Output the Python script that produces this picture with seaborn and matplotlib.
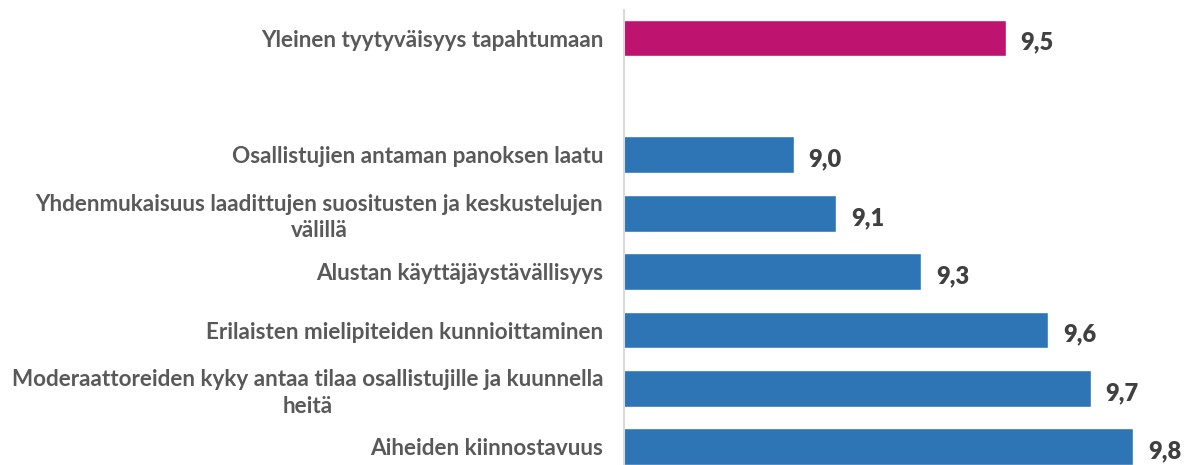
import matplotlib
matplotlib.use("Agg")
import matplotlib.pyplot as plt
import seaborn as sns
import pandas as pd
import numpy as np

categories = [
    "Yleinen tyytyväisyys tapahtumaan",
    " ",
    "Osallistujien antaman panoksen laatu",
    "Yhdenmukaisuus laadittujen suositusten ja keskustelujen\nvälillä",
    "Alustan käyttäjäystävällisyys",
    "Erilaisten mielipiteiden kunnioittaminen",
    "Moderaattoreiden kyky antaa tilaa osallistujille ja kuunnella\nheitä",
    "Aiheiden kiinnostavuus",
]
values = [9.5, np.nan, 9.0, 9.1, 9.3, 9.6, 9.7, 9.8]
groups = ["overall", "overall", "item", "item", "item", "item", "item", "item"]
value_labels = ["9,5", "", "9,0", "9,1", "9,3", "9,6", "9,7", "9,8"]

df = pd.DataFrame({"category": categories, "value": values, "group": groups})

sns.set_theme(style="white")
plt.rcParams["font.family"] = ["Lato", "DejaVu Sans"]

fig = plt.figure(figsize=(11.89, 4.65), dpi=100)
ax = fig.add_axes([624 / 1189, -11 / 465, 594 / 1189, 466 / 465])

sns.barplot(data=df, y="category", x="value", hue="group",
            palette={"overall": "#BE1470", "item": "#2E75B6"},
            orient="h", width=0.63, dodge=False, legend=False, ax=ax,
            saturation=1)

ax.set_xlim(8.6, 10.0)
ax.set_ylim(7.5, -0.48)
ax.set_xlabel("")
ax.set_ylabel("")
ax.set_xticks([])
for s in ["top", "right", "bottom"]:
    ax.spines[s].set_visible(False)
ax.spines["left"].set_color("#D9D9D9")
ax.spines["left"].set_linewidth(1.5)

ax.tick_params(axis="y", length=0, pad=15)
for lab in ax.get_yticklabels():
    lab.set_fontweight("bold")
    lab.set_fontsize(16.2)
    lab.set_color("#595959")
    lab.set_multialignment("center")
    lab.set_linespacing(1.3)

for i, (v, t) in enumerate(zip(values, value_labels)):
    if t:
        ax.text(v + 0.035, i + 0.08, t, va="center", ha="left",
                fontsize=17, fontweight="heavy", color="#404040")

fig.savefig("out.png", dpi=100)
